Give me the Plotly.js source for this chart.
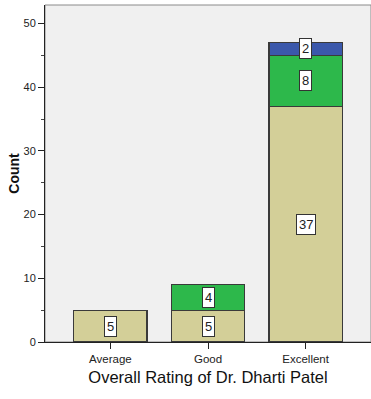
<!DOCTYPE html>
<html>
<head>
<meta charset="utf-8">
<script src="https://cdn.plot.ly/plotly-3.0.1.min.js"></script>
<style>
html,body{margin:0;padding:0;background:#fff;}
#chart{width:371px;height:399px;}
</style>
</head>
<body>
<div id="chart"></div>
<script>
var categories = ['Average', 'Good', 'Excellent'];
var seriesNames = ['Group 1', 'Group 2', 'Group 3'];
var series1 = [5, 5, 37];
var series2 = [null, 4, 8];
var series3 = [null, null, 2];
var yTickVals = [0, 10, 20, 30, 40, 50];

var colors = ['#d3cf98', '#2db84b', '#3b58ab'];
var allSeries = [series1, series2, series3];

var traces = allSeries.map(function (s, i) {
  return {
    type: 'bar',
    x: categories,
    y: s,
    name: seriesNames[i],
    marker: { color: colors[i], line: { color: '#3a3a3a', width: 1.2 } },
    hoverinfo: 'x+y'
  };
});

var annotations = [];
categories.forEach(function (c, ci) {
  var base = 0;
  allSeries.forEach(function (s) {
    var v = s[ci];
    if (v) {
      annotations.push({
        x: c, y: base + v / 2, xref: 'x', yref: 'y',
        text: String(v), showarrow: false,
        font: { family: 'Liberation Sans, Arial, sans-serif', size: 13, color: '#222' },
        bgcolor: '#ffffff', bordercolor: '#333333', borderwidth: 1, borderpad: 2
      });
      base += v;
    }
  });
});

var layout = {
  width: 371, height: 399,
  margin: { l: 45, r: 0, t: 5, b: 57 },
  barmode: 'stack',
  bargap: 0.25,
  showlegend: false,
  paper_bgcolor: '#ffffff',
  plot_bgcolor: '#f0f0f0',
  font: { family: 'Liberation Sans, Arial, sans-serif', color: '#222' },
  xaxis: {
    type: 'category',
    range: [-0.67, 2.67],
    showline: true, linecolor: '#222', linewidth: 1,
    ticks: 'outside', ticklen: 6, tickcolor: '#222',
    tickfont: { size: 11.5, color: '#222' },
    showgrid: false, zeroline: false,
    title: { text: 'Overall Rating of Dr. Dharti Patel', font: { size: 16.5, color: '#111' }, standoff: 7 }
  },
  yaxis: {
    range: [0, 52.9],
    tickvals: yTickVals,
    showline: true, linecolor: '#222', linewidth: 1,
    ticks: 'outside', ticklen: 6, tickcolor: '#222',
    tickfont: { size: 11, color: '#222' },
    minor: { dtick: 5, ticks: 'outside', ticklen: 3, tickcolor: '#444', showgrid: false },
    showgrid: false, zeroline: false,
    title: { text: '<b>Count</b>', font: { size: 14, color: '#111' }, standoff: 0 }
  },
  shapes: [{
    type: 'rect', xref: 'paper', yref: 'paper', x0: 0, x1: 1, y0: 0, y1: 1,
    line: { color: '#8a8a8a', width: 1 }, fillcolor: 'rgba(0,0,0,0)', layer: 'below'
  }],
  annotations: annotations
};

Plotly.newPlot('chart', traces, layout, { displayModeBar: false, staticPlot: true });
</script>
</body>
</html>
